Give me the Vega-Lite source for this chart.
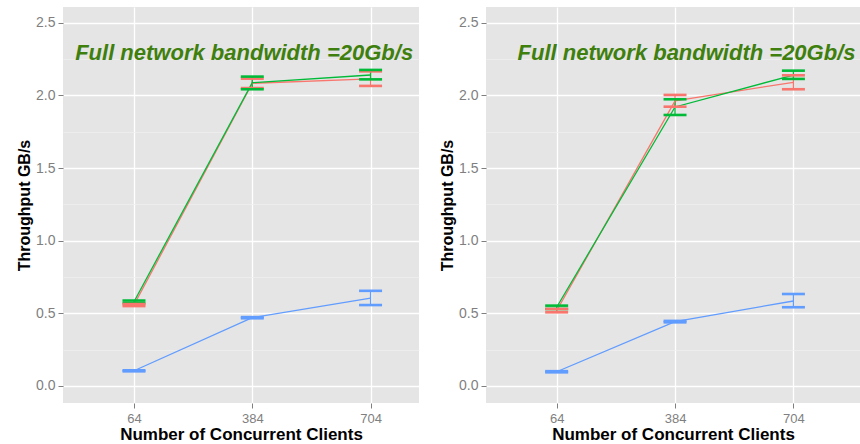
{
  "$schema": "https://vega.github.io/schema/vega-lite/v6.json",
  "padding": {"left": 16, "top": 7, "right": 0, "bottom": 0},
  "background": "#ffffff",
  "datasets": {
    "tp": [
      {"panel": "L", "series": "A", "clients": 64, "mean": 0.557, "lo": 0.55, "hi": 0.564},
      {"panel": "L", "series": "A", "clients": 384, "mean": 2.083, "lo": 2.05, "hi": 2.115},
      {"panel": "L", "series": "A", "clients": 704, "mean": 2.113, "lo": 2.065, "hi": 2.165},
      {"panel": "L", "series": "B", "clients": 64, "mean": 0.58, "lo": 0.57, "hi": 0.588},
      {"panel": "L", "series": "B", "clients": 384, "mean": 2.087, "lo": 2.042, "hi": 2.129},
      {"panel": "L", "series": "B", "clients": 704, "mean": 2.14, "lo": 2.11, "hi": 2.175},
      {"panel": "L", "series": "C", "clients": 64, "mean": 0.105, "lo": 0.101, "hi": 0.108},
      {"panel": "L", "series": "C", "clients": 384, "mean": 0.47, "lo": 0.466, "hi": 0.474},
      {"panel": "L", "series": "C", "clients": 704, "mean": 0.604, "lo": 0.557, "hi": 0.655},
      {"panel": "R", "series": "A", "clients": 64, "mean": 0.518, "lo": 0.507, "hi": 0.53},
      {"panel": "R", "series": "A", "clients": 384, "mean": 1.962, "lo": 1.922, "hi": 2.003},
      {"panel": "R", "series": "A", "clients": 704, "mean": 2.09, "lo": 2.042, "hi": 2.138},
      {"panel": "R", "series": "B", "clients": 64, "mean": 0.542, "lo": 0.53, "hi": 0.553},
      {"panel": "R", "series": "B", "clients": 384, "mean": 1.92, "lo": 1.865, "hi": 1.973},
      {"panel": "R", "series": "B", "clients": 704, "mean": 2.14, "lo": 2.113, "hi": 2.17},
      {"panel": "R", "series": "C", "clients": 64, "mean": 0.098, "lo": 0.094, "hi": 0.102},
      {"panel": "R", "series": "C", "clients": 384, "mean": 0.443, "lo": 0.438, "hi": 0.448},
      {"panel": "R", "series": "C", "clients": 704, "mean": 0.585, "lo": 0.542, "hi": 0.633}
    ]
  },
  "data": {"name": "tp"},
  "spacing": 20,
  "hconcat": [
    {
      "width": 356,
      "height": 396,
      "transform": [{"filter": "datum.panel === 'L'"}],
      "layer": [
        {
          "mark": {"type": "rule", "strokeWidth": 1.3},
          "encoding": {
            "x": {"field": "clients", "type": "quantitative", "scale": {"domain": [-128, 835], "nice": false, "zero": false},
                  "axis": {"values": [64, 384, 704], "title": "Number of Concurrent Clients", "grid": true, "labelFontSize": 13, "labelPadding": 4, "titlePadding": 1, "titleFontSize": 17}},
            "y": {"field": "lo", "type": "quantitative", "scale": {"domain": [-0.117, 2.608], "nice": false, "zero": false},
                  "axis": {"values": [0.25, 0.75, 1.25, 1.75, 2.25], "grid": true, "gridColor": "#f0f0f0", "gridWidth": 0.7, "labels": false, "ticks": false, "domain": false, "title": null, "orient": "left"}},
            "y2": {"field": "hi"},
            "color": {"field": "series", "type": "nominal", "scale": {"domain": ["A", "B", "C"], "range": ["#F8766D", "#00BA38", "#619CFF"]}, "legend": null}
          }
        },
        {
          "mark": {"type": "line", "strokeWidth": 1.3},
          "encoding": {
            "x": {"field": "clients", "type": "quantitative"},
            "y": {"field": "mean", "type": "quantitative",
                  "axis": {"values": [0, 0.5, 1, 1.5, 2, 2.5], "format": ".1f", "title": "Throughput GB/s", "grid": true, "orient": "left", "labelFontSize": 14, "titleFontSize": 16}},
            "color": {"field": "series", "type": "nominal"}
          }
        },
        {
          "mark": {"type": "tick", "orient": "horizontal", "size": 23, "thickness": 2.6, "opacity": 1},
          "encoding": {
            "x": {"field": "clients", "type": "quantitative"},
            "y": {"field": "lo", "type": "quantitative", "axis": null},
            "color": {"field": "series", "type": "nominal"}
          }
        },
        {
          "mark": {"type": "tick", "orient": "horizontal", "size": 23, "thickness": 2.6, "opacity": 1},
          "encoding": {
            "x": {"field": "clients", "type": "quantitative"},
            "y": {"field": "hi", "type": "quantitative", "axis": null},
            "color": {"field": "series", "type": "nominal"}
          }
        },
        {
          "data": {"values": [{"label": "Full network bandwidth =20Gb/s"}]},
          "mark": {"type": "text", "font": "Liberation Sans", "fontSize": 22, "fontWeight": "bold", "fontStyle": "italic", "color": "#3e7f0e"},
          "encoding": {
            "x": {"datum": 362},
            "y": {"datum": 2.29, "axis": null},
            "text": {"field": "label"}
          }
        }
      ],
      "resolve": {"axis": {"y": "independent"}}
    },
    {
      "width": 374,
      "height": 396,
      "transform": [{"filter": "datum.panel === 'R'"}],
      "layer": [
        {
          "mark": {"type": "rule", "strokeWidth": 1.3},
          "encoding": {
            "x": {"field": "clients", "type": "quantitative", "scale": {"domain": [-127, 884], "nice": false, "zero": false},
                  "axis": {"values": [64, 384, 704], "title": "Number of Concurrent Clients", "grid": true, "labelFontSize": 13, "labelPadding": 4, "titlePadding": 1, "titleFontSize": 17}},
            "y": {"field": "lo", "type": "quantitative", "scale": {"domain": [-0.117, 2.608], "nice": false, "zero": false},
                  "axis": {"values": [0.25, 0.75, 1.25, 1.75, 2.25], "grid": true, "gridColor": "#f0f0f0", "gridWidth": 0.7, "labels": false, "ticks": false, "domain": false, "title": null, "orient": "left"}},
            "y2": {"field": "hi"},
            "color": {"field": "series", "type": "nominal", "scale": {"domain": ["A", "B", "C"], "range": ["#F8766D", "#00BA38", "#619CFF"]}, "legend": null}
          }
        },
        {
          "mark": {"type": "line", "strokeWidth": 1.3},
          "encoding": {
            "x": {"field": "clients", "type": "quantitative"},
            "y": {"field": "mean", "type": "quantitative",
                  "axis": {"values": [0, 0.5, 1, 1.5, 2, 2.5], "format": ".1f", "title": "Throughput GB/s", "grid": true, "orient": "left", "labelFontSize": 14, "titleFontSize": 16}},
            "color": {"field": "series", "type": "nominal"}
          }
        },
        {
          "mark": {"type": "tick", "orient": "horizontal", "size": 23, "thickness": 2.6, "opacity": 1},
          "encoding": {
            "x": {"field": "clients", "type": "quantitative"},
            "y": {"field": "lo", "type": "quantitative", "axis": null},
            "color": {"field": "series", "type": "nominal"}
          }
        },
        {
          "mark": {"type": "tick", "orient": "horizontal", "size": 23, "thickness": 2.6, "opacity": 1},
          "encoding": {
            "x": {"field": "clients", "type": "quantitative"},
            "y": {"field": "hi", "type": "quantitative", "axis": null},
            "color": {"field": "series", "type": "nominal"}
          }
        },
        {
          "data": {"values": [{"label": "Full network bandwidth =20Gb/s"}]},
          "mark": {"type": "text", "font": "Liberation Sans", "fontSize": 22, "fontWeight": "bold", "fontStyle": "italic", "color": "#3e7f0e"},
          "encoding": {
            "x": {"datum": 415},
            "y": {"datum": 2.29, "axis": null},
            "text": {"field": "label"}
          }
        }
      ],
      "resolve": {"axis": {"y": "independent"}}
    }
  ],
  "config": {
    "view": {"fill": "#e5e5e5", "stroke": null},
    "axis": {
      "domain": false,
      "tickColor": "#7f7f7f",
      "tickSize": 5,
      "labelColor": "#7f7f7f",
      "labelFont": "Liberation Sans",
      "labelFontSize": 13,
      "labelPadding": 3,
      "titleFont": "Liberation Sans",
      "titleFontSize": 17,
      "titleFontWeight": "bold",
      "titleColor": "#000000",
      "titlePadding": 3,
      "gridColor": "#ffffff",
      "gridWidth": 1.3
    }
  }
}
